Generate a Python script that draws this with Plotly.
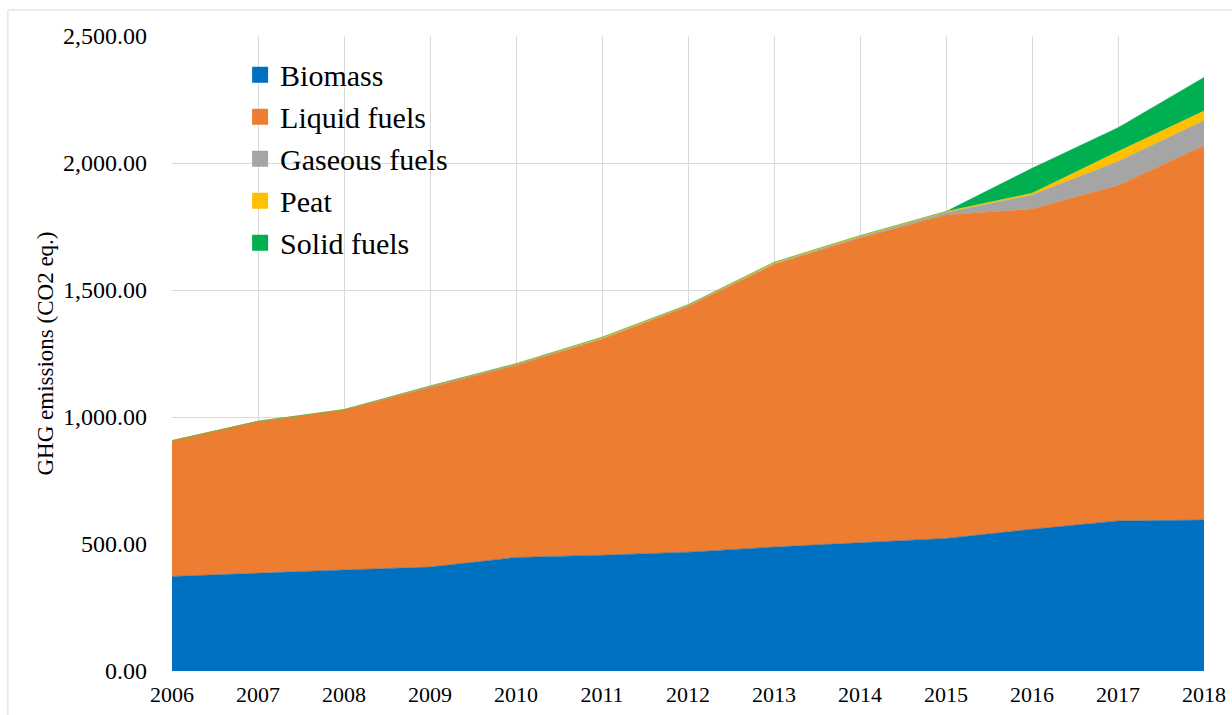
import plotly.graph_objects as go

years = [2006, 2007, 2008, 2009, 2010, 2011, 2012, 2013, 2014, 2015, 2016, 2017, 2018]
biomass = [372, 386, 398, 409, 447, 456, 468, 488, 504, 522, 558, 591, 594]
liquid = [535, 597, 631, 709, 757, 850, 968, 1112, 1201, 1273, 1261, 1320, 1474]
gaseous = [0, 0, 0, 3, 4, 3, 3, 4, 5, 10, 55, 95, 99]
peat = [0, 0, 0, 1, 2, 5, 3, 5, 4, 4, 7, 39, 38]
solid = [0, 0, 0, 0, 0, 0, 0, 0, 0, 0, 98, 94, 132]

names = ["Biomass", "Liquid fuels", "Gaseous fuels", "Peat", "Solid fuels"]
series = [biomass, liquid, gaseous, peat, solid]
colors = ["#0070C0", "#ED7D31", "#A5A5A5", "#FFC000", "#00B050"]

FONT = "Liberation Serif, Times New Roman, serif"

fig = go.Figure()
for n, s, c in zip(names, series, colors):
    fig.add_trace(go.Scatter(
        x=years, y=s, name=n, stackgroup="one", mode="lines",
        line=dict(width=0.5, color=c), fillcolor=c, showlegend=False,
    ))
for n, c in zip(names, colors):
    fig.add_trace(go.Scatter(
        x=[None], y=[None], name=n, mode="markers",
        marker=dict(symbol="square", size=16, color=c), showlegend=True,
    ))

fig.update_layout(
    width=1232, height=715,
    margin=dict(l=172, r=28, t=36, b=44, autoexpand=False),
    plot_bgcolor="white", paper_bgcolor="white",
    font=dict(family=FONT, color="#000000"),
    showlegend=True,
    legend=dict(
        x=0.066, y=0.98, xanchor="left", yanchor="top",
        font=dict(family=FONT, size=30, color="#000000"),
        bgcolor="rgba(0,0,0,0)", traceorder="normal",
        itemwidth=30,
    ),
    shapes=[dict(
        type="rect", xref="paper", yref="paper",
        x0=-0.159, x1=1.03, y0=-0.2, y1=1.041,
        line=dict(color="#D9D9D9", width=1), layer="below",
    )],
)
fig.update_xaxes(
    range=[2006, 2018], tickmode="array", tickvals=years,
    ticktext=[str(y) for y in years],
    showgrid=True, gridcolor="#D9D9D9", gridwidth=1,
    showline=False, zeroline=False, ticks="",
    ticklabelstandoff=8, automargin=False, ticklabeloverflow="allow",
    tickfont=dict(family=FONT, size=22, color="#000000"),
)
fig.update_yaxes(
    range=[0, 2500], tickvals=[0, 500, 1000, 1500, 2000, 2500],
    tickformat=",.2f",
    showgrid=True, gridcolor="#D9D9D9", gridwidth=1,
    showline=False, zeroline=False, ticks="",
    ticklabelstandoff=24, automargin=False,
    tickfont=dict(family=FONT, size=24, color="#000000"),
    title=dict(text="GHG emissions (CO2 eq.)", font=dict(family=FONT, size=23, color="#000000"), standoff=2),
)

fig.write_html("out.html", config={"displayModeBar": False},
               post_script="document.body.style.margin='0';")
